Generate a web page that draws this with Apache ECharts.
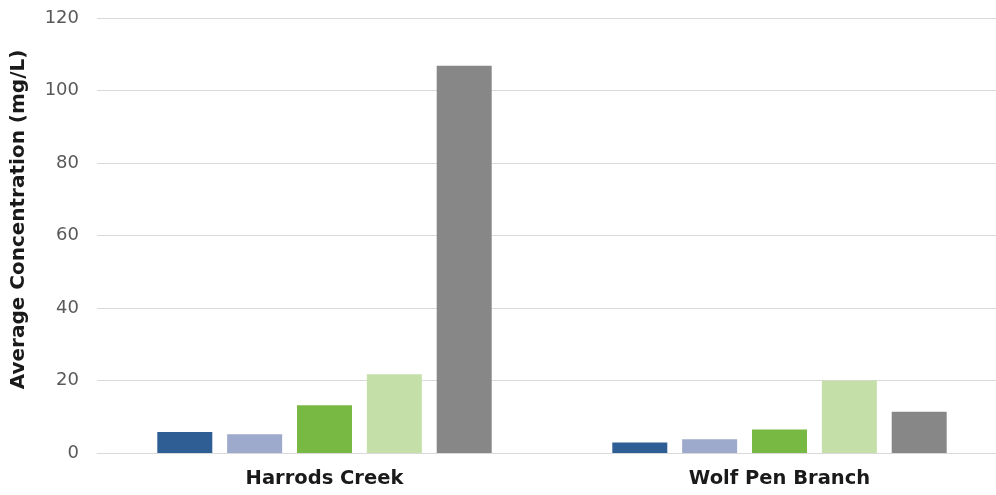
<!DOCTYPE html>
<html><head><meta charset="utf-8">
<script src="https://cdn.jsdelivr.net/npm/echarts@6/dist/echarts.min.js"></script>
<style>html,body{margin:0;padding:0;background:#fff;overflow:hidden}#c{width:996px;height:495px}</style>
</head><body><div id="c"></div>
<script>
const categories = ['Harrods Creek', 'Wolf Pen Branch'];
const seriesA = [5.8, 2.9];
const seriesB = [5.2, 3.8];
const seriesC = [13.2, 6.5];
const seriesD = [21.7, 20.0];
const seriesE = [106.8, 11.4];
const colors = ['#2E5E93', '#9EAACB', '#78B943', '#C5DFA9', '#878787'];
const allSeries = [seriesA, seriesB, seriesC, seriesD, seriesE];
const chart = echarts.init(document.getElementById('c'));
chart.setOption({
  animation: false,
  grid: {left: 97, right: -11, top: 18, bottom: 42, outerBoundsMode: 'none', containLabel: false},
  xAxis: {
    type: 'category', data: categories,
    axisLine: {lineStyle: {color: '#d9d9d9'}},
    axisTick: {show: false},
    axisLabel: {color: '#1a1a1a', fontFamily: 'DejaVu Sans', fontWeight: 'bold', fontSize: 19.5, margin: 16}
  },
  yAxis: {
    type: 'value', min: 0, max: 120, interval: 20,
    name: 'Average Concentration (mg/L)', nameLocation: 'middle', nameGap: 68,
    nameTextStyle: {color: '#1a1a1a', fontFamily: 'DejaVu Sans', fontWeight: 'bold', fontSize: 20, padding: [0, 0, 0, 32]},
    axisLine: {show: false}, axisTick: {show: false},
    axisLabel: {color: '#595959', fontFamily: 'DejaVu Sans', fontSize: 18, margin: 18},
    splitLine: {lineStyle: {color: '#d9d9d9'}}
  },
  series: allSeries.map((d, i) => ({
    type: 'bar', data: d, barWidth: 55, barGap: '27%',
    itemStyle: {color: colors[i]}
  }))
});
</script></body></html>
